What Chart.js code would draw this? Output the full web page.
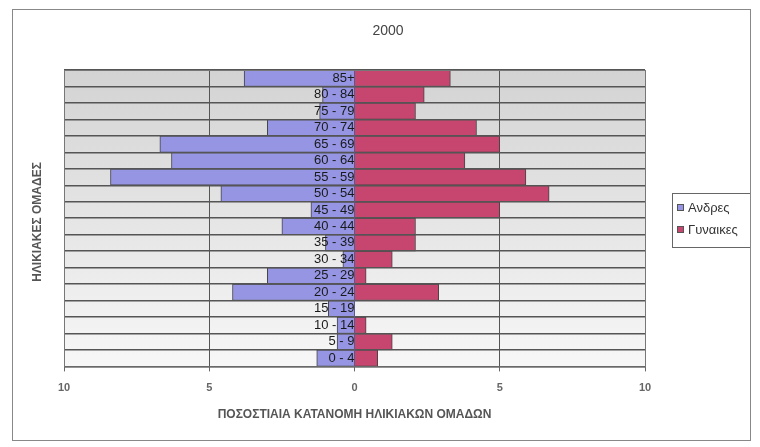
<!DOCTYPE html>
<html>
<head>
<meta charset="utf-8">
<script src="https://cdn.jsdelivr.net/npm/chart.js@4.4.0/dist/chart.umd.min.js"></script>
<style>
  html, body { margin: 0; padding: 0; background: #fff; overflow: hidden; }
  canvas { display: block; }
</style>
</head>
<body>
<canvas id="pyramid" width="760" height="447"></canvas>
<script>
// --- Data ---
const ageGroups = ['85+', '80 - 84', '75 - 79', '70 - 74', '65 - 69', '60 - 64', '55 - 59', '50 - 54', '45 - 49',
                   '40 - 44', '35 - 39', '30 - 34', '25 - 29', '20 - 24', '15 - 19', '10 - 14', '5 - 9', '0 - 4'];
const menPct   = [3.8, 1.1, 1.2, 3.0, 6.7, 6.3, 8.4, 4.6, 1.5, 2.5, 1.0, 0.4, 3.0, 4.2, 0.9, 0.6, 0.6, 1.3];
const womenPct = [3.3, 2.4, 2.1, 4.2, 5.0, 3.8, 5.9, 6.7, 5.0, 2.1, 2.1, 1.3, 0.4, 2.9, 0.0, 0.4, 1.3, 0.8];
const seriesNames = ['Ανδρες', 'Γυναικες'];
const xTicks = [-10, -5, 0, 5, 10];
const chartTitle = '2000';
const xTitle = 'ΠΟΣΟΣΤΙΑΙΑ ΚΑΤΑΝΟΜΗ ΗΛΙΚΙΑΚΩΝ ΟΜΑΔΩΝ';
const yTitle = 'ΗΛΙΚΙΑΚΕΣ ΟΜΑΔΕΣ';

const colors = ['#9595e3', '#c6466f'];

Chart.defaults.font.family = 'Arial, "Liberation Sans", sans-serif';

// background, frames, titles and the boxed legend
const decorations = {
  id: 'decorations',
  beforeDatasetsDraw(chart) {
    const { ctx, chartArea: a } = chart;
    const g = ctx.createLinearGradient(0, a.top, 0, a.bottom);
    g.addColorStop(0, '#d3d3d3');
    g.addColorStop(1, '#f7f7f7');
    ctx.save();
    ctx.globalCompositeOperation = 'destination-over';
    ctx.fillStyle = g;
    ctx.fillRect(a.left, a.top, a.width, a.height);
    ctx.restore();
  },
  afterDraw(chart) {
    const { ctx, chartArea: a } = chart;
    ctx.save();
    ctx.strokeStyle = '#777';
    ctx.lineWidth = 1;
    ctx.strokeRect(a.left + 0.5, a.top + 0.5, a.width, a.height);

    ctx.fillStyle = '#444';
    ctx.textAlign = 'center';
    ctx.textBaseline = 'middle';
    ctx.font = '14px Arial, "Liberation Sans", sans-serif';
    ctx.fillText(chartTitle, 388, 31);

    ctx.save();
    ctx.translate(38, 222);
    ctx.rotate(-Math.PI / 2);
    ctx.fillStyle = '#555';
    ctx.font = 'bold 12px Arial, "Liberation Sans", sans-serif';
    ctx.fillText(yTitle, 0, 0);
    ctx.restore();

    // legend
    ctx.strokeStyle = '#666';
    ctx.strokeRect(672.5, 193.5, 100, 54);
    ctx.textAlign = 'left';
    ctx.font = '13px Arial, "Liberation Sans", sans-serif';
    chart.data.datasets.forEach((ds, i) => {
      const y = 208 + i * 22;
      ctx.fillStyle = ds.backgroundColor;
      ctx.fillRect(677, y - 4, 7, 7);
      ctx.strokeStyle = '#555';
      ctx.strokeRect(677.5, y - 3.5, 6, 6);
      ctx.fillStyle = '#333';
      ctx.fillText(ds.label, 688, y);
    });

    // outer chart frame (clips the legend like the original)
    ctx.fillStyle = '#fff';
    ctx.fillRect(751, 0, 9, 447);
    ctx.strokeStyle = '#888';
    ctx.strokeRect(12.5, 9.5, 738, 431);
    ctx.restore();
  }
};

new Chart(document.getElementById('pyramid'), {
  type: 'bar',
  data: {
    labels: ageGroups,
    datasets: [
      { label: seriesNames[0], data: menPct.map(v => -v), backgroundColor: colors[0] },
      { label: seriesNames[1], data: womenPct, backgroundColor: colors[1] }
    ]
  },
  options: {
    indexAxis: 'y',
    responsive: false,
    animation: false,
    layout: { padding: { left: 64, right: 115, top: 70, bottom: 21 } },
    datasets: {
      bar: { barPercentage: 1, categoryPercentage: 1, borderColor: '#444', borderWidth: 1 }
    },
    plugins: {
      legend: { display: false },
      tooltip: { enabled: false }
    },
    scales: {
      x: {
        stacked: true,
        min: -10,
        max: 10,
        afterBuildTicks: (scale) => { scale.ticks = xTicks.map(v => ({ value: v })); },
        ticks: {
          color: '#666',
          font: { size: 11, weight: 'bold' },
          padding: 10,
          callback: (v) => Math.abs(v)
        },
        grid: {
          color: (c) => (Math.abs(c.tick.value) === 5 ? '#555' : 'transparent'),
          tickColor: '#666',
          tickLength: 5
        },
        border: { display: false },
        title: {
          display: true,
          text: xTitle,
          color: '#555',
          font: { size: 12, weight: 'bold' },
          padding: { top: 3, bottom: 4 }
        }
      },
      y: {
        stacked: true,
        position: { x: 0 },
        ticks: { color: '#1a1a1a', font: { size: 13 }, padding: 3, autoSkip: false, z: 1 },
        grid: { color: '#555', lineWidth: 1.5, drawTicks: false, offset: true, z: 1 },
        border: { color: '#5a5a8a', width: 1, z: 1 }
      }
    }
  },
  plugins: [decorations]
});
</script>
</body>
</html>
